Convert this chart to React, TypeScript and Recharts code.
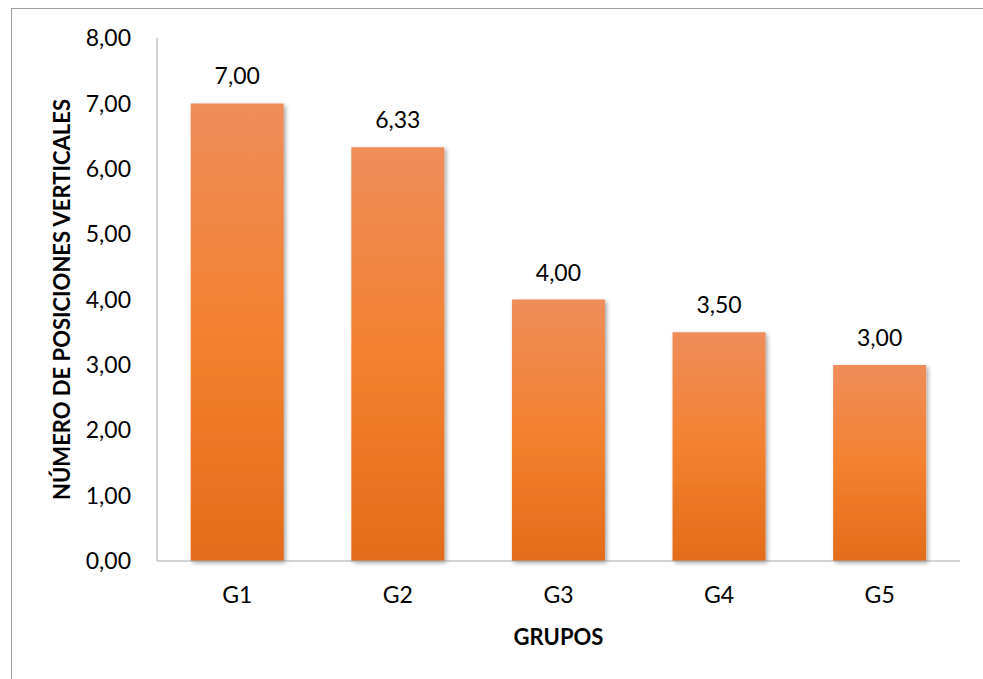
import { Bar, BarChart, LabelList, XAxis, YAxis } from "recharts";

const grupos = ["G1", "G2", "G3", "G4", "G5"];
const posiciones = [7.0, 6.33, 4.0, 3.5, 3.0];
const yTicks = [0, 1, 2, 3, 4, 5, 6, 7, 8];

const data = grupos.map((g, i) => ({ grupo: g, valor: posiciones[i] }));

const fmt = (v: number) => v.toFixed(2).replace(".", ",");
const FONT = "Lato, 'Open Sans', sans-serif";
const AXIS = "#a6a6a6";

export default function App() {
  return (
    <div style={{ position: "absolute", left: 0, top: 0, width: 983, height: 679, background: "#fff" }}>
      <div
        style={{
          position: "absolute",
          left: 11,
          top: 8,
          right: -4,
          bottom: -4,
          borderLeft: `1px solid #9e9e9e`,
          borderTop: `1px solid #9e9e9e`,
        }}
      />
      <div style={{ position: "absolute", left: 0, top: 0 }}>
        <BarChart
          width={983}
          height={679}
          data={data}
          margin={{ top: 38, right: 23, left: 0, bottom: 0 }}
          barCategoryGap="21%"
        >
          <defs>
            <linearGradient id="barFill" x1="0" y1="0" x2="0" y2="1">
              <stop offset="0%" stopColor="#ef8d5a" />
              <stop offset="50%" stopColor="#f3812f" />
              <stop offset="100%" stopColor="#e36c1a" />
            </linearGradient>
            <filter id="barShadow" x="-10%" y="-10%" width="130%" height="120%">
              <feDropShadow dx="2" dy="2" stdDeviation="2" floodColor="#000" floodOpacity="0.35" />
            </filter>
          </defs>
          <XAxis
            dataKey="grupo"
            height={118}
            axisLine={{ stroke: AXIS, strokeWidth: 1 }}
            tickLine={false}
            tickMargin={20}
            tick={{ fill: "#000", fontSize: 23, fontFamily: FONT }}
            label={{
              value: "GRUPOS",
              position: "insideBottom",
              offset: 34,
              style: { fill: "#000", fontSize: 22, fontWeight: 700, fontFamily: FONT },
            }}
          />
          <YAxis
            width={157}
            domain={[0, 8]}
            ticks={yTicks}
            interval={0}
            tickFormatter={fmt}
            axisLine={{ stroke: AXIS, strokeWidth: 1 }}
            tickLine={false}
            tickMargin={20}
            tick={{ fill: "#000", fontSize: 23, fontFamily: FONT }}
            label={{
              value: "NÚMERO DE POSICIONES VERTICALES",
              angle: -90,
              position: "center",
              dx: -16,
              style: { fill: "#000", fontSize: 22, fontWeight: 700, fontFamily: FONT, textAnchor: "middle" },
            }}
          />
          <Bar dataKey="valor" fill="url(#barFill)" filter="url(#barShadow)" isAnimationActive={false}>
            <LabelList
              dataKey="valor"
              position="top"
              offset={19}
              formatter={(v: any) => fmt(Number(v))}
              style={{ fill: "#000", fontSize: 23, fontFamily: FONT }}
            />
          </Bar>
        </BarChart>
      </div>
    </div>
  );
}
